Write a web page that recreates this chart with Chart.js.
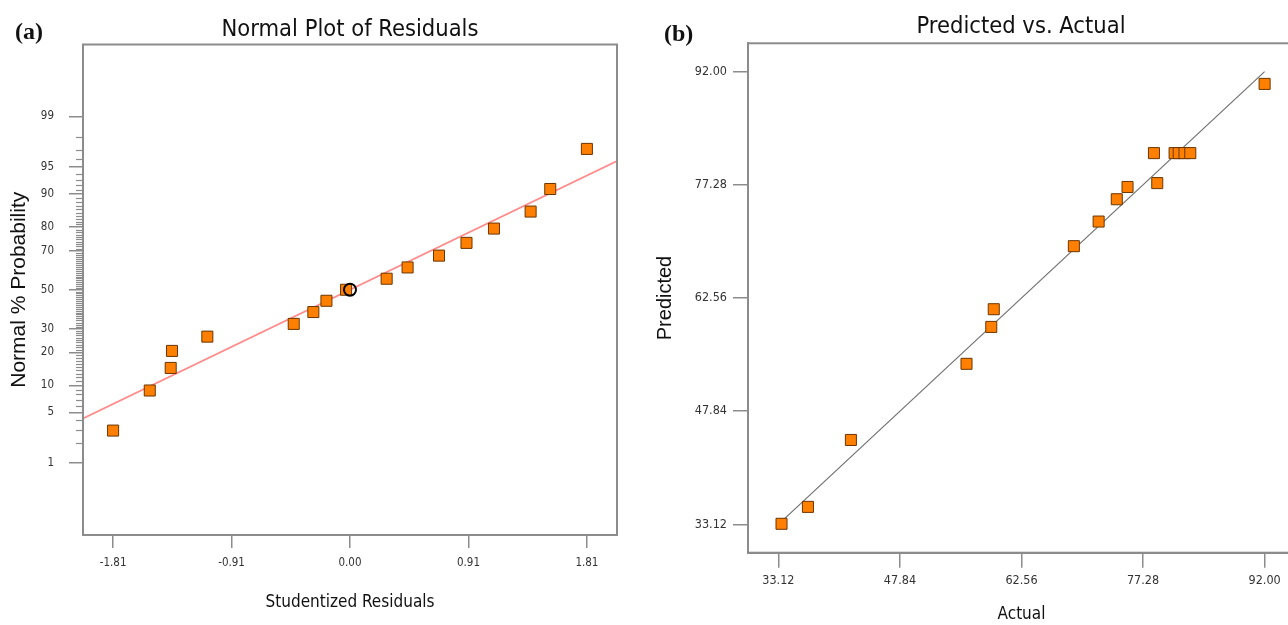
<!DOCTYPE html>
<html>
<head>
<meta charset="utf-8">
<script src="https://cdn.jsdelivr.net/npm/chart.js@4/dist/chart.umd.min.js"></script>
<style>
  html, body { margin: 0; padding: 0; background: #ffffff; width: 1288px; height: 625px; overflow: hidden; position: relative; }
  canvas { position: absolute; top: 0; }
  #c1 { left: 0; }
  #c2 { left: 640px; }
  .panel { position: absolute; font-family: 'Liberation Serif', 'Times New Roman', serif; font-weight: bold; font-size: 24px; line-height: 24px; color: #111; }
</style>
</head>
<body>
<canvas id="c1" width="700" height="625"></canvas>
<canvas id="c2" width="762" height="625"></canvas>
<div class="panel" style="left:15px; top:19px;">(a)</div>
<div class="panel" style="left:664px; top:21px;">(b)</div>
<script>
// ---------- data: (a) normal plot of residuals ----------
const residuals     = [-1.81, -1.53, -1.37, -1.36, -1.09, -0.43, -0.28, -0.18, -0.03, 0.28, 0.44, 0.68, 0.89, 1.10, 1.38, 1.53, 1.81];
const probabilities = [2.94, 8.82, 14.71, 20.59, 26.47, 32.35, 38.24, 44.12, 50.00, 55.88, 61.76, 67.65, 73.53, 79.41, 85.29, 91.18, 97.06];
const fitLineX = [-2.04, 2.04];
const fitLineP = [4.2, 95.8];
const markerX = [0.0];
const markerP = [50.0];
const residTicks = [-1.81, -0.905, 0.0, 0.905, 1.81];
const residTickLabels = ['-1.81', '-0.91', '0.00', '0.91', '1.81'];
const probTicks = [1, 5, 10, 20, 30, 50, 70, 80, 90, 95, 99];
const probTickLabels = ['1', '5', '10', '20', '30', '50', '70', '80', '90', '95', '99'];

// ---------- data: (b) predicted vs actual ----------
const actual    = [33.5, 36.7, 41.9, 55.9, 58.9, 59.2, 68.9, 71.9, 74.1, 75.4, 78.6, 79.0, 81.1, 81.6, 82.3, 83.0, 92.0];
const predicted = [33.2, 35.4, 44.1, 54.0, 58.8, 61.1, 69.3, 72.5, 75.4, 77.0, 81.4, 77.5, 81.4, 81.4, 81.4, 81.4, 90.4];
const diagX = [33.12, 92.00];
const diagY = [33.12, 92.00];
const pvaTicks = [33.12, 47.84, 62.56, 77.28, 92.00];
const pvaTickLabels = ['33.12', '47.84', '62.56', '77.28', '92.00'];

// ---------- helpers ----------
function qnorm(p) {
  const a=[-3.969683028665376e+01,2.209460984245205e+02,-2.759285104469687e+02,1.383577518672690e+02,-3.066479806614716e+01,2.506628277459239e+00];
  const b=[-5.447609879822406e+01,1.615858368580409e+02,-1.556989798598866e+02,6.680131188771972e+01,-1.328068155288572e+01];
  const c=[-7.784894002430293e-03,-3.223964580411365e-01,-2.400758277161838e+00,-2.549671010173000e+00,4.374664141464968e+00,2.938163982698783e+00];
  const d=[7.784695709041462e-03,3.224671290700398e-01,2.445134137142996e+00,3.754408661907416e+00];
  const pl = 0.02425, ph = 1 - pl;
  let q, r;
  if (p < pl) { q = Math.sqrt(-2*Math.log(p)); return (((((c[0]*q+c[1])*q+c[2])*q+c[3])*q+c[4])*q+c[5])/((((d[0]*q+d[1])*q+d[2])*q+d[3])*q+1); }
  if (p > ph) { q = Math.sqrt(-2*Math.log(1-p)); return -(((((c[0]*q+c[1])*q+c[2])*q+c[3])*q+c[4])*q+c[5])/((((d[0]*q+d[1])*q+d[2])*q+d[3])*q+1); }
  q = p - 0.5; r = q*q;
  return (((((a[0]*r+a[1])*r+a[2])*r+a[3])*r+a[4])*r+a[5])*q/(((((b[0]*r+b[1])*r+b[2])*r+b[3])*r+b[4])*r+1);
}
function pcdf(z) {
  const t = 1/(1+0.2316419*Math.abs(z));
  const y = 1 - 0.3989422804*Math.exp(-z*z/2)*t*(0.319381530+t*(-0.356563782+t*(1.781477937+t*(-1.821255978+t*1.330274429))));
  return z >= 0 ? y : 1 - y;
}

// Normal-probability scale (value = percent, drawn on a probit axis)
class ProbabilityScale extends Chart.LinearScale {
  determineDataLimits() { this.min = this.options.min; this.max = this.options.max; }
  buildTicks() { return probTicks.map(v => ({ value: v })); }
  configure() {
    super.configure();
    this._zStart = qnorm(this.min / 100);
    this._zRange = qnorm(this.max / 100) - this._zStart;
  }
  getPixelForValue(v) {
    if (v === null || v === undefined) return NaN;
    return this.getPixelForDecimal((qnorm(v / 100) - this._zStart) / this._zRange);
  }
  getValueForPixel(px) {
    return 100 * pcdf(this._zStart + this.getDecimalForPixel(px) * this._zRange);
  }
}
ProbabilityScale.id = 'probability';
ProbabilityScale.defaults = {};
Chart.register(ProbabilityScale);

const NARROW = "'Liberation Sans Narrow','Arial Narrow','DejaVu Sans Condensed',sans-serif";
const SANS = "'Liberation Sans', Arial, sans-serif";
const AXIS = '#8c8c8c';
const ORANGE = '#ff8000';
const ORANGE_EDGE = '#6b3500';

const boxPlugin = {
  id: 'boxFrame',
  afterDraw(chart) {
    const { ctx, chartArea: a } = chart;
    ctx.save();
    ctx.strokeStyle = AXIS; ctx.lineWidth = 2;
    ctx.strokeRect(a.left, a.top, a.right - a.left, a.bottom - a.top);
    ctx.restore();
  }
};
const minorTickPlugin = {
  id: 'minorTicks',
  afterDraw(chart) {
    const s = chart.scales.y; if (!s || s.type !== 'probability') return;
    const ctx = chart.ctx;
    ctx.save(); ctx.strokeStyle = AXIS; ctx.lineWidth = 1.2;
    for (let p = 1; p <= 99; p++) {
      if (probTicks.includes(p)) continue;
      const py = Math.round(s.getPixelForValue(p)) + 0.5;
      ctx.beginPath(); ctx.moveTo(s.right - 7, py); ctx.lineTo(s.right, py); ctx.stroke();
    }
    ctx.restore();
  }
};

function dummyRight(width) {
  return { position: 'right', display: true, grid: { display: false }, ticks: { display: false }, border: { display: false },
           afterFit: s => { s.width = width; } };
}

// ---------- chart (a) ----------
new Chart(document.getElementById('c1'), {
  type: 'scatter',
  data: {
    datasets: [
      { label: 'fit', data: fitLineX.map((x, i) => ({ x, y: fitLineP[i] })), showLine: true, borderColor: '#ff8a8a', borderWidth: 1.8, pointRadius: 0, order: 3 },
      { label: 'residuals', data: residuals.map((x, i) => ({ x, y: probabilities[i] })), pointStyle: 'rect', pointRadius: 7.8, backgroundColor: ORANGE, borderColor: ORANGE_EDGE, borderWidth: 1, order: 2 },
      { label: 'marker', data: markerX.map((x, i) => ({ x, y: markerP[i] })), pointStyle: 'circle', pointRadius: 6, backgroundColor: 'rgba(0,0,0,0)', borderColor: '#000', borderWidth: 2, order: 1 }
    ]
  },
  options: {
    responsive: false, animation: false,
    layout: { padding: 0 },
    plugins: {
      legend: { display: false }, tooltip: { enabled: false },
      title: { display: true, text: 'Normal Plot of Residuals', color: '#111', font: { family: NARROW, size: 23.5, weight: 'normal' }, padding: { top: 15.4, bottom: 0.9 } }
    },
    scales: {
      x: {
        type: 'linear', min: -2.04, max: 2.04,
        afterBuildTicks: s => { s.ticks = residTicks.map(v => ({ value: v })); },
        ticks: { autoSkip: false, maxRotation: 0, padding: 8, color: '#333', font: { family: NARROW, size: 11.5 }, callback: (v, i) => residTickLabels[i] },
        grid: { drawOnChartArea: false, drawTicks: true, tickLength: 13, color: AXIS, lineWidth: 1.5 },
        border: { display: true, color: AXIS, width: 2 },
        title: { display: true, text: 'Studentized Residuals', color: '#111', font: { family: NARROW, size: 17 }, padding: { top: 0, bottom: 11.8 } },
        afterFit: s => { s.height = 90; }
      },
      y: {
        type: 'probability', min: 0.05, max: 99.95,
        ticks: { autoSkip: false, padding: 15, color: '#333', font: { family: NARROW, size: 11.5 }, callback: (v, i) => probTickLabels[i] },
        grid: { drawOnChartArea: false, drawTicks: true, tickLength: 14, color: AXIS, lineWidth: 1.5 },
        border: { display: true, color: AXIS, width: 2 },
        title: { display: true, text: 'Normal % Probability', color: '#111', font: { family: SANS, size: 21 }, padding: { top: 6.4, bottom: 0 } },
        afterFit: s => { s.width = 83; }
      },
      y2: dummyRight(83)
    }
  },
  plugins: [boxPlugin, minorTickPlugin]
});

// ---------- chart (b) ----------
new Chart(document.getElementById('c2'), {
  type: 'scatter',
  data: {
    datasets: [
      { label: 'diagonal', data: diagX.map((x, i) => ({ x, y: diagY[i] })), showLine: true, borderColor: '#707070', borderWidth: 1.2, pointRadius: 0, order: 2 },
      { label: 'runs', data: actual.map((x, i) => ({ x, y: predicted[i] })), pointStyle: 'rect', pointRadius: 7.8, backgroundColor: ORANGE, borderColor: ORANGE_EDGE, borderWidth: 1, order: 1 }
    ]
  },
  options: {
    responsive: false, animation: false,
    layout: { padding: 0 },
    plugins: {
      legend: { display: false }, tooltip: { enabled: false },
      title: { display: true, text: 'Predicted vs. Actual', color: '#111', font: { family: NARROW, size: 23.5, weight: 'normal' }, padding: { top: 12.9, bottom: 2.2 } }
    },
    scales: {
      x: {
        type: 'linear', min: 29.44, max: 95.68,
        afterBuildTicks: s => { s.ticks = pvaTicks.map(v => ({ value: v })); },
        ticks: { autoSkip: false, maxRotation: 0, padding: 6, color: '#333', font: { family: NARROW, size: 12.5 }, callback: (v, i) => pvaTickLabels[i] },
        grid: { drawOnChartArea: false, drawTicks: true, tickLength: 15, color: AXIS, lineWidth: 1.5 },
        border: { display: true, color: AXIS, width: 2 },
        title: { display: true, text: 'Actual', color: '#111', font: { family: NARROW, size: 17 }, padding: { top: 0, bottom: 0 } },
        afterFit: s => { s.height = 72.3; }
      },
      y: {
        type: 'linear', min: 29.44, max: 95.68,
        afterBuildTicks: s => { s.ticks = pvaTicks.map(v => ({ value: v })); },
        ticks: { autoSkip: false, padding: 6, color: '#333', font: { family: NARROW, size: 12.5 }, callback: (v, i) => pvaTickLabels[i] },
        grid: { drawOnChartArea: false, drawTicks: true, tickLength: 15, color: AXIS, lineWidth: 1.5 },
        border: { display: true, color: AXIS, width: 2 },
        title: { display: true, text: 'Predicted', color: '#111', font: { family: SANS, size: 20 }, padding: { top: 13, bottom: 0 } },
        afterFit: s => { s.width = 108; }
      },
      y2: dummyRight(107)
    }
  },
  plugins: [boxPlugin]
});
</script>
</body>
</html>
